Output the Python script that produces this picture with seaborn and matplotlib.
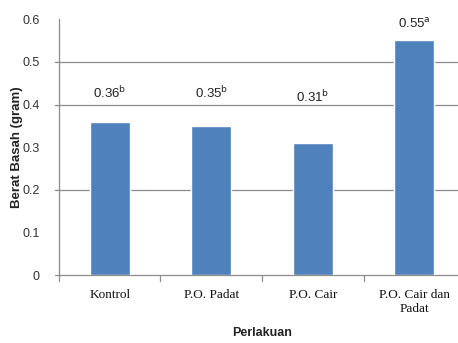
import matplotlib
matplotlib.use("Agg")
import matplotlib.pyplot as plt
import seaborn as sns
import pandas as pd

# Mean fresh weight per treatment
categories = ["Kontrol", "P.O. Padat", "P.O. Cair", "P.O. Cair dan\nPadat"]
values = [0.36, 0.35, 0.31, 0.55]
letters = ["b", "b", "b", "a"]
y_ticks = [0, 0.1, 0.2, 0.3, 0.4, 0.5, 0.6]
grid_levels = [0.2, 0.4, 0.5]

# Heights at which the significance labels sit
label_y = [0.426, 0.426, 0.417, 0.588]

sns.set_theme(style="white")
plt.rcParams["font.family"] = ["Liberation Sans", "DejaVu Sans"]

df = pd.DataFrame({"Perlakuan": categories, "Berat": values})

fig = plt.figure(figsize=(4.58, 3.43), dpi=100)
ax = fig.add_axes([0.1288, 0.1968, 0.8865, 0.7478])

for g in grid_levels:
    ax.axhline(g, color="#8c8c8c", lw=0.9, zorder=0)

sns.barplot(data=df, x="Perlakuan", y="Berat", color="#4F81BD", saturation=1,
            width=0.39, ax=ax, zorder=2)

ax.set_xlim(-0.5, 3.5)
ax.set_ylim(0, 0.6)
ax.set_yticks(y_ticks)
ax.set_yticklabels([f"{t:g}" for t in y_ticks], fontsize=9, color="#333333")
ax.set_xticks(range(len(categories)))
ax.set_xticklabels(categories, fontsize=9.5, family="Liberation Serif", color="#111111")

for s in ["top", "right"]:
    ax.spines[s].set_visible(False)
for s in ["left", "bottom"]:
    ax.spines[s].set_color("#8c8c8c")
    ax.spines[s].set_linewidth(0.9)

ax.tick_params(axis="y", length=0, pad=14)
ax.tick_params(axis="x", length=0, pad=10)
# category separators on the x axis
for xb in [-0.5, 0.5, 1.5, 2.5]:
    ax.plot([xb, xb], [0, -0.012], color="#8c8c8c", lw=0.9, clip_on=False)
for g in [0] + grid_levels:
    ax.plot([-0.5, -0.54], [g, g], color="#8c8c8c", lw=0.9, clip_on=False)

for i, (v, l, ly) in enumerate(zip(values, letters, label_y)):
    ax.text(i, ly, f"{v:.2f}$^{{\\mathrm{{{l}}}}}$", ha="center", va="center",
            fontsize=9.5, color="#222222")

ax.set_xlabel("")
ax.set_ylabel("")
fig.text(0.037, 0.571, "Berat Basah (gram)", rotation=90, ha="center", va="center",
         fontsize=9.5, fontweight="bold", color="#222222")
fig.text(0.572, 0.029, "Perlakuan", ha="center", va="center",
         fontsize=9, fontweight="bold", color="#222222")

fig.savefig("out.png", dpi=100)
